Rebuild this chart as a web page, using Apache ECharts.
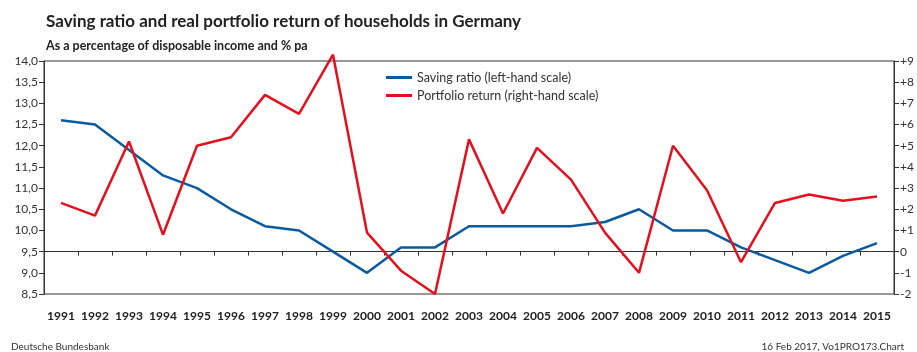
<!DOCTYPE html>
<html>
<head>
<meta charset="utf-8">
<script src="https://cdn.jsdelivr.net/npm/echarts@6/dist/echarts.min.js"></script>
<style>
  html, body { margin: 0; padding: 0; background: #fff; }
  #chart { width: 917px; height: 352px; }
</style>
</head>
<body>
<div id="chart"></div>
<script>
// Years on the category axis
const years = ['1991','1992','1993','1994','1995','1996','1997','1998','1999','2000',
  '2001','2002','2003','2004','2005','2006','2007','2008','2009','2010',
  '2011','2012','2013','2014','2015'];

// Saving ratio, % of disposable income (left-hand scale)
const savingRatio = [12.6, 12.5, 11.9, 11.3, 11.0, 10.5, 10.1, 10.0, 9.5, 9.0,
  9.6, 9.6, 10.1, 10.1, 10.1, 10.1, 10.2, 10.5, 10.0, 10.0,
  9.6, 9.3, 9.0, 9.4, 9.7];

// Real portfolio return, % pa (right-hand scale)
const portfolioReturn = [2.3, 1.7, 5.2, 0.8, 5.0, 5.4, 7.4, 6.5, 9.3, 0.9,
  -0.9, -2.0, 5.3, 1.8, 4.9, 3.4, 0.9, -1.0, 5.0, 2.9,
  -0.5, 2.3, 2.7, 2.4, 2.6];

const FONT = 'Lato';
const BLUE = '#0a5a9e';
const RED = '#e3101e';
const AXIS = '#333';

const chart = echarts.init(document.getElementById('chart'), null, { renderer: 'canvas' });

chart.setOption({
  animation: false,
  backgroundColor: '#fff',
  textStyle: { fontFamily: FONT },
  title: [
    { text: 'Saving ratio and real portfolio return of households in Germany',
      left: 41, top: 8,
      textStyle: { fontFamily: FONT, fontSize: 17, fontWeight: 'bold', color: '#222' } },
    { text: 'As a percentage of disposable income and % pa',
      left: 41, top: 34,
      textStyle: { fontFamily: FONT, fontSize: 12.5, fontWeight: 'bold', color: '#222' } },
    { text: 'Deutsche Bundesbank',
      left: 6, top: 337,
      textStyle: { fontFamily: FONT, fontSize: 10, fontWeight: 'normal', color: '#333' } },
    { text: '16 Feb 2017, Vo1PRO173.Chart',
      right: 8, top: 337,
      textStyle: { fontFamily: FONT, fontSize: 10, fontWeight: 'normal', color: '#333' } }
  ],
  legend: {
    orient: 'vertical',
    left: 381, top: 66,
    itemWidth: 26, itemHeight: 3, itemGap: 5,
    icon: 'rect',
    textStyle: { fontFamily: FONT, fontSize: 12.5, color: '#333' },
    data: ['Saving ratio (left-hand scale)', 'Portfolio return (right-hand scale)']
  },
  grid: {
    left: 44, right: 23, top: 61, bottom: 58,
    show: true, borderColor: AXIS, borderWidth: 1, backgroundColor: 'transparent'
  },
  xAxis: {
    type: 'category',
    data: years,
    boundaryGap: true,
    axisLine: { lineStyle: { color: AXIS, width: 1 } },
    axisTick: { show: true, length: 4, lineStyle: { color: AXIS } },
    axisLabel: { fontFamily: FONT, fontSize: 12, fontWeight: 'bold', color: '#222', margin: 16, interval: 0 },
    splitLine: { show: false }
  },
  yAxis: [
    {
      type: 'value', min: 8.5, max: 14, interval: 0.5, position: 'left',
      axisLine: { show: true, lineStyle: { color: AXIS } },
      axisTick: { show: true, length: 5, lineStyle: { color: AXIS } },
      axisLabel: { fontFamily: FONT, fontSize: 12, color: '#333', margin: 6,
        formatter: v => v.toFixed(1).replace('.', ',') },
      splitLine: { show: false }
    },
    {
      type: 'value', min: -2, max: 9, interval: 1, position: 'right',
      axisLine: { show: true, lineStyle: { color: AXIS } },
      axisTick: { show: true, length: 5, lineStyle: { color: AXIS } },
      axisLabel: { fontFamily: FONT, fontSize: 12, color: '#333', margin: 6,
        formatter: v => (v > 0 ? '+' + v : String(v)) },
      splitLine: { show: false }
    }
  ],
  series: [
    {
      name: 'Saving ratio (left-hand scale)',
      type: 'line', yAxisIndex: 0, data: savingRatio,
      symbol: 'none', clip: false,
      lineStyle: { color: BLUE, width: 2.5 },
      itemStyle: { color: BLUE }
    },
    {
      name: 'Portfolio return (right-hand scale)',
      type: 'line', yAxisIndex: 1, data: portfolioReturn,
      symbol: 'none', clip: false,
      lineStyle: { color: RED, width: 2.5 },
      itemStyle: { color: RED }
    }
  ]
});
</script>
</body>
</html>
